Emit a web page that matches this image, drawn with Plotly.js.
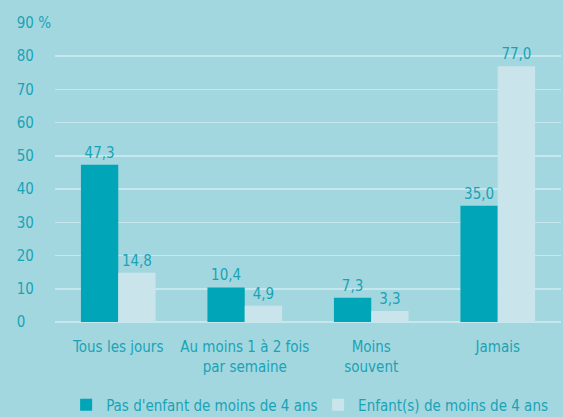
<!DOCTYPE html>
<html><head><meta charset="utf-8">
<script src="https://cdn.plot.ly/plotly-3.0.1.min.js"></script>
<style>html,body{margin:0;padding:0;background:#a3d7e0;}</style>
</head><body><div id="chart" style="width:563px;height:417px;"></div>
<script>
const categories = ["Tous les jours", "Au moins 1 à 2 fois<br>par semaine", "Moins<br>souvent", "Jamais"];
const seriesNames = ["Pas d'enfant de moins de 4 ans", "Enfant(s) de moins de 4 ans"];
const noChild = [47.3, 10.4, 7.3, 35.0];
const withChild = [14.8, 4.9, 3.3, 77.0];
const tickVals = [0, 10, 20, 30, 40, 50, 60, 70, 80, 90];
const tickLabels = ["0\u2007\u2007\u2007", "10\u2007\u2007", "20\u2007\u2007", "30\u2007\u2007", "40\u2007\u2007", "50\u2007\u2007", "60\u2007\u2007", "70\u2007\u2007", "80\u2007\u2007", "90 %"];

const fmt = v => v.toFixed(1).replace('.', ',');
const FONT = "'Liberation Sans Narrow', 'DejaVu Sans Condensed', sans-serif";
const TXT = '#19a3b5';

const traces = [
  {type:'bar', name:seriesNames[0], x:categories, y:noChild, marker:{color:'#00a5b7'},
   text:noChild.map(fmt), textposition:'outside', cliponaxis:false, constraintext:'none',
   textfont:{color:TXT, size:15, family:FONT}, hoverinfo:'skip', legend:'legend'},
  {type:'bar', name:seriesNames[1], x:categories, y:withChild, marker:{color:'#c9e4ea'},
   text:withChild.map(fmt), textposition:'outside', cliponaxis:false, constraintext:'none',
   textfont:{color:TXT, size:15, family:FONT}, hoverinfo:'skip', legend:'legend2'}
];

const legendBase = {orientation:'h', y:-0.278, yanchor:'middle', xanchor:'left',
  font:{family:FONT, color:TXT, size:15}, bgcolor:'rgba(0,0,0,0)'};

const layout = {
  width:563, height:417,
  paper_bgcolor:'#a3d7e0', plot_bgcolor:'#a3d7e0',
  margin:{l:55, r:2, t:23, b:95, autoexpand:false},
  barmode:'group', bargap:0.41, bargroupgap:0,
  font:{family:FONT, color:TXT, size:15},
  showlegend:true,
  legend:Object.assign({}, legendBase, {x:0.022}),
  legend2:Object.assign({}, legendBase, {x:0.52}),
  xaxis:{showgrid:false, zeroline:false, showline:false, ticks:'', tickfont:{family:FONT, color:TXT, size:15},
    ticklabelstandoff:14},
  yaxis:{range:[0,90], tickvals:tickVals, ticktext:tickLabels, showgrid:true, gridcolor:'#c6e7ed', gridwidth:1.5,
    zeroline:true, zerolinecolor:'#c6e7ed', zerolinewidth:1.5, showline:false, ticks:'',
    tickfont:{family:FONT, color:TXT, size:15}, ticklabelstandoff:3}
};

Plotly.newPlot('chart', traces, layout, {displayModeBar:false, staticPlot:true});
</script></body></html>
